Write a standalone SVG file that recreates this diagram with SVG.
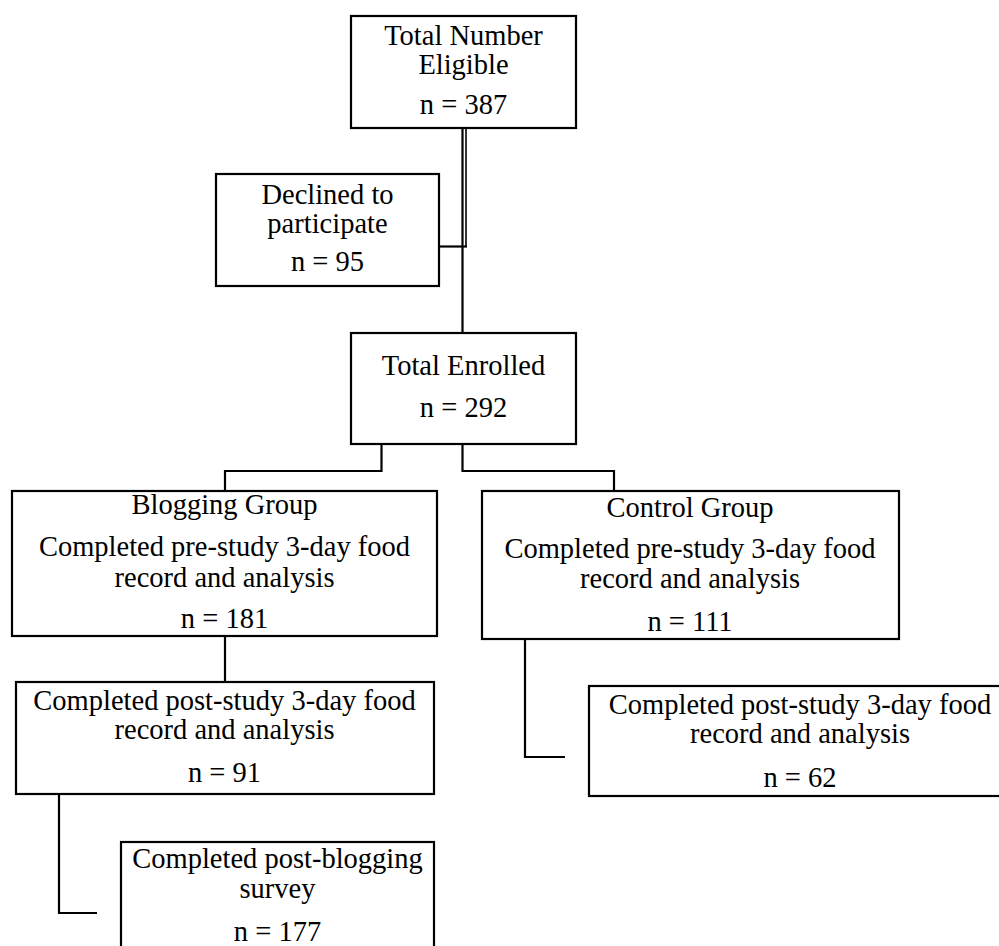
<svg xmlns="http://www.w3.org/2000/svg" width="999" height="946" viewBox="0 0 999 946">
<style>
.box{fill:#fff;stroke:#000;stroke-width:2.2}
.c{fill:none;stroke:#000;stroke-width:2.2}
text{font-family:"Liberation Serif","Times New Roman",serif;font-size:28.5px;fill:#000;text-anchor:middle}
</style>
<rect x="0" y="0" width="999" height="946" fill="#fff"/>
<g id="connectors">
<path class="c" d="M462.5 128V333"/>
<path class="c" d="M466 128V247" style="stroke-width:1.6"/>
<path class="c" d="M439 246.5H467"/>
<path class="c" d="M381.5 444V471H225V491"/>
<path class="c" d="M462.5 444V471H614V491"/>
<path class="c" d="M225 636V682"/>
<path class="c" d="M525 639V757H565"/>
<path class="c" d="M59 794V913H97"/>
</g>
<g id="eligible">
<rect class="box" x="351" y="16" width="225" height="112"/>
<text x="463.5" y="45">Total Number</text>
<text x="463.5" y="74">Eligible</text>
<text x="463.5" y="114">n = 387</text>
</g>
<g id="declined">
<rect class="box" x="216" y="174" width="223" height="112"/>
<text x="327.5" y="204">Declined to</text>
<text x="327.5" y="233">participate</text>
<text x="327.5" y="271">n = 95</text>
</g>
<g id="enrolled">
<rect class="box" x="351" y="333" width="225" height="111"/>
<text x="463.5" y="375">Total Enrolled</text>
<text x="463.5" y="417">n = 292</text>
</g>
<g id="blogging">
<rect class="box" x="12" y="491" width="425" height="145"/>
<text x="224.5" y="514">Blogging Group</text>
<text x="224.5" y="556">Completed pre-study 3-day food</text>
<text x="224.5" y="587">record and analysis</text>
<text x="224.5" y="628">n = 181</text>
</g>
<g id="control">
<rect class="box" x="482" y="491" width="417" height="148"/>
<text x="690" y="517">Control Group</text>
<text x="690" y="558">Completed pre-study 3-day food</text>
<text x="690" y="588">record and analysis</text>
<text x="690" y="631">n = 111</text>
</g>
<g id="blogging-post">
<rect class="box" x="16" y="682" width="418" height="112"/>
<text x="224.5" y="710">Completed post-study 3-day food</text>
<text x="224.5" y="739">record and analysis</text>
<text x="224.5" y="782">n = 91</text>
</g>
<g id="control-post">
<rect class="box" x="589" y="686" width="422" height="110"/>
<text x="800" y="714">Completed post-study 3-day food</text>
<text x="800" y="743">record and analysis</text>
<text x="800" y="787">n = 62</text>
</g>
<g id="survey">
<rect class="box" x="121" y="842" width="313" height="120"/>
<text x="277.5" y="868">Completed post-blogging</text>
<text x="277.5" y="898">survey</text>
<text x="277.5" y="941">n = 177</text>
</g>
</svg>
